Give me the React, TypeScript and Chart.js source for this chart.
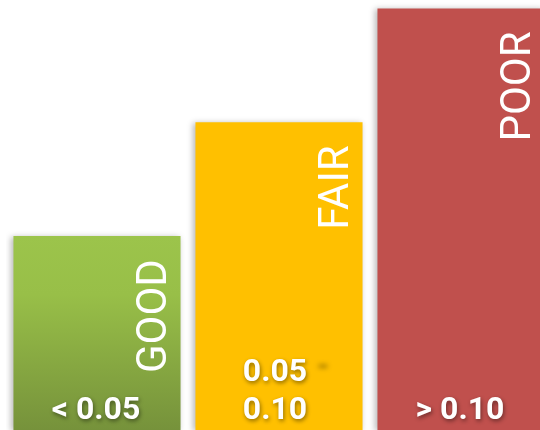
import React, { useEffect, useRef } from "react";
import { Chart, registerables } from "chart.js";

Chart.register(...registerables);

const categories = ["GOOD", "FAIR", "POOR"];
const rangeLabels = [["< 0.05"], ["0.05", "0.10"], ["> 0.10"]];
const values = [46, 73, 100];
const barColors = ["#8DB142", "#FFC000", "#C0504D"];

const labelPlugin = {
  id: "barLabels",
  beforeDatasetsDraw(chart: any) {
    const ctx = chart.ctx;
    ctx.save();
    ctx.shadowColor = "rgba(0,0,0,0.28)";
    ctx.shadowBlur = 6;
    ctx.shadowOffsetX = -2;
    ctx.shadowOffsetY = 1;
  },
  afterDatasetsDraw(chart: any) {
    const ctx = chart.ctx;
    ctx.restore();
    const meta = chart.getDatasetMeta(0);
    meta.data.forEach((bar: any, i: number) => {
      const right = bar.x + bar.width / 2;
      // rotated category label
      ctx.save();
      ctx.translate(right - 15, bar.y + 23);
      ctx.rotate(-Math.PI / 2);
      ctx.font = "400 42px Roboto";
      ctx.fillStyle = "#FFFFFF";
      ctx.textAlign = "right";
      ctx.textBaseline = "alphabetic";
      ctx.fillText(categories[i], 0, 0);
      ctx.restore();

      // range labels at bottom
      const lines = rangeLabels[i];
      const bottom = chart.chartArea.bottom;
      ctx.save();
      ctx.font = "700 32px Roboto";
      ctx.textAlign = "center";
      ctx.textBaseline = "alphabetic";
      ctx.shadowColor = "rgba(0,0,0,0.45)";
      ctx.shadowBlur = 4;
      ctx.shadowOffsetX = 1;
      ctx.shadowOffsetY = 2;
      ctx.fillStyle = "#FFFFFF";
      const cx = bar.x - (lines.length > 1 ? 4 : 1);
      lines.forEach((line: string, j: number) => {
        const y = bottom - 11 - (lines.length - 1 - j) * 38;
        ctx.fillText(line, cx, y);
      });
      if (lines.length > 1) {
        // shadow-only dash (the glyph itself is drawn off-canvas)
        ctx.shadowOffsetX = -2000;
        ctx.shadowOffsetY = 1;
        ctx.shadowBlur = 5;
        ctx.shadowColor = "rgba(0,0,0,0.35)";
        ctx.fillText("-", bar.x + 44 + 2000, bottom - 11 - 44);
      }
      ctx.restore();
    });
  },
};

export default function App() {
  const canvasRef = useRef<HTMLCanvasElement | null>(null);

  useEffect(() => {
    const canvas = canvasRef.current;
    if (!canvas) return;
    const chart = new Chart(canvas, {
      type: "bar",
      data: {
        labels: categories,
        datasets: [
          {
            data: values,
            backgroundColor: (c: any) => {
              const i = c.dataIndex;
              const ch = c.chart;
              if (i === 0 && ch.chartArea && ch.scales && ch.scales.y) {
                const top = ch.scales.y.getPixelForValue(values[0]);
                const bot = ch.chartArea.bottom;
                const g = ch.ctx.createLinearGradient(0, top, 0, bot);
                g.addColorStop(0, "#9CC44B");
                g.addColorStop(0.3, "#98BF48");
                g.addColorStop(1, "#76923B");
                return g;
              }
              return barColors[i] || "#999";
            },
            borderWidth: 0,
            barPercentage: 0.918,
            categoryPercentage: 1,
          },
        ],
      },
      options: {
        responsive: false,
        maintainAspectRatio: false,
        animation: false,
        devicePixelRatio: 1,
        layout: { padding: { left: 6, right: 0, top: 0, bottom: 0 } },
        plugins: {
          legend: { display: false },
          tooltip: { enabled: false },
          title: { display: false },
        },
        scales: {
          x: { display: false },
          y: { display: false, min: 0, max: 102 },
        },
      },
      plugins: [labelPlugin],
    });
    return () => chart.destroy();
  }, []);

  return (
    <div
      style={{
        position: "absolute",
        left: 0,
        top: 0,
        width: 540,
        height: 430,
        overflow: "hidden",
        background: "#FFFFFF",
      }}
    >
      <canvas ref={canvasRef} width={552} height={430} style={{ display: "block" }} />
    </div>
  );
}
